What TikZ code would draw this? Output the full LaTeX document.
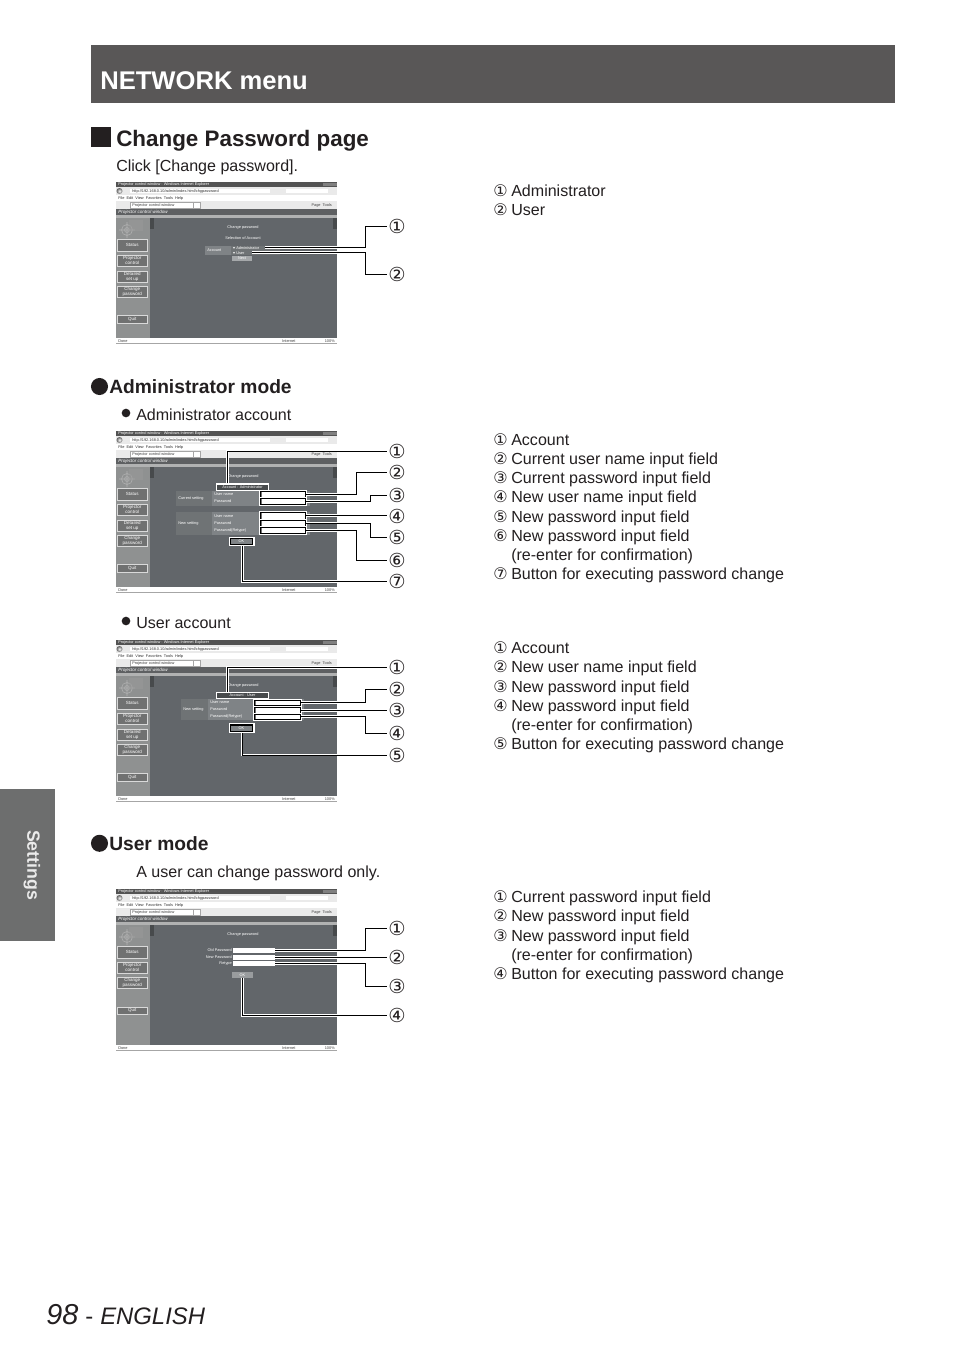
\documentclass[tikz,border=0pt]{standalone}
\usepackage{fontspec}
\usetikzlibrary{fit}
\setmainfont{Liberation Sans}
\newfontfamily\cfont{DejaVu Sans}
\definecolor{banner}{HTML}{595757}
\definecolor{tabgray}{HTML}{6D6E6E}
\definecolor{ink}{HTML}{231F20}
\definecolor{panel}{HTML}{62666A}
\definecolor{panelb}{HTML}{474A4C}
\definecolor{side}{HTML}{8F9191}
\definecolor{bandc}{HTML}{5E6062}
\definecolor{rowa}{HTML}{7F8386}
\definecolor{rowb}{HTML}{6F7375}
\definecolor{tint}{HTML}{EAEAEA}
\newcommand\tinyf{\fontsize{2.9}{3.2}\selectfont}
\newcommand\btnf{\fontsize{3.4}{3.8}\selectfont}
\tikzset{
  x=0.75pt,y=-0.75pt,
  bodyt/.style={anchor=base west,inner sep=0pt,text=ink,font=\fontsize{12.03}{14}\selectfont},
  headt/.style={anchor=base west,inner sep=0pt,text=ink,font=\bfseries\fontsize{14.4}{16}\selectfont},
  callout/.style={inner sep=0.8pt,text=ink,font=\cfont\fontsize{14.5}{16}\selectfont},
  conn/.style={line width=0.7pt,draw=black,preaction={draw=white,line width=2.2pt}},
  tinyt/.style={inner sep=0pt,font=\tinyf},
  btnst/.style={inner sep=0pt,fill=side!78!black,draw=white!85!black,line width=0.35pt},
  btntx/.style={inner sep=0pt,text=white,align=center,font=\btnf},
  fieldst/.style={inner sep=0pt,fill=white,draw=black,line width=0.7pt,preaction={draw=white,line width=2.1pt},
    path picture={\fill[black!55] (path picture bounding box.north west) rectangle ([xshift=1.3pt]path picture bounding box.south west);}},
  plainfield/.style={inner sep=0pt,fill=white},
  markbox/.style={inner sep=0pt,fill=panelb,draw=white,line width=0.9pt,text=white,font=\tinyf},
  okbox/.style={inner sep=0pt,fill=black,draw=white,line width=0.9pt},
  okbtn/.style={inner sep=0pt,fill=rowa,text=white,font=\tinyf},
}
% screenshot frame, drawn in a scope shifted to the top left corner of the shot
\newcommand\shotbase{%
  \fill[white] (0,0) rectangle (221,161);
  \fill[gray!65!black] (0,0) rectangle (221,4.7);
  \node[tinyt,text=white,anchor=west] (ttl) at (2,2.4) {Projector control window - Windows Internet Explorer};
  \fill[black!50] (207,0.5) rectangle (220.5,4.2);
  \fill[tint] (0,4.7) rectangle (221,13);
  \shade[inner color=white,outer color=black!60] (3.5,9) circle (3);
  \fill[white] (14,7) rectangle (154,11);
  \node[tinyt,text=black!80,anchor=west] (adr) at (16,9) {http://192.168.0.10/admin/index.html/chgpassword};
  \fill[white] (170,7) rectangle (212,11);
  \node[tinyt,text=black!80,anchor=west] (mnu) at (2,16) {File\ \ Edit\ \ View\ \ Favorites\ \ Tools\ \ Help};
  \fill[tint] (0,19) rectangle (221,27);
  \fill[white] (14,20.5) rectangle (84,26);
  \draw[black!35,line width=0.2pt] (14,20.5) rectangle (77,26) (77,20.5) rectangle (84,26);
  \node[tinyt,text=black!75,anchor=west] (fav) at (16,23.3) {Projector control window};
  \node[tinyt,text=black!75,anchor=east] (tools) at (216,23.3) {Page\ \ Tools};
  \fill[bandc] (0,27.3) rectangle (221,33.3);
  \node[tinyt,text=white,anchor=west,font=\itshape\fontsize{3.4}{4}\selectfont] (ban) at (2,30.4) {Projector control window};
  \fill[side] (0,33.3) rectangle (221,156);
  \fill[panel] (34,36) rectangle (221,156);
  \fill[side!70!white] (0,33.3) rectangle (221,36);
  \fill[panelb] (34,36) rectangle (38,47);
  \fill[panelb] (217,36) rectangle (221,47);
  \draw[white!70!black,line width=0.4pt] (11,48) circle (5.5) (11,48) circle (2.5) (3,48) -- (19,48) (11,40) -- (11,56);
  \fill[white!60!black,opacity=.55] (13,38) rectangle (27,49);
  \fill[white] (0,156) rectangle (221,161);
  \node[tinyt,text=black!75,anchor=west] (don) at (2,159) {Done};
  \node[tinyt,text=black!75,anchor=west] (inet) at (166,159) {Internet};
  \node[tinyt,text=black!75,anchor=east] (zm) at (219,159) {100\%};
  \draw[black!35,line width=0.3pt] (0,161) -- (221,161);
}
\newcommand\sbtn[4]{\node[btnst,fit={(1.5,#2)(31,#3)}] (#1) {};\node[btntx] (#1t) at (#1.center) {#4};}
\newcommand\tl[4]{\node[tinyt,text=white,anchor=#3] (#1) at (#2) {#4};}
\newcommand\litem[4]{\node[bodyt] (#1) at (493,#2) {\makebox[13.5pt][l]{\cfont\fontsize{12}{13}\selectfont #3}#4};}
\newcommand\lcont[3]{\node[bodyt] (#1) at (511,#2) {#3};}
\begin{document}
\begin{tikzpicture}
\useasboundingbox (0,0) rectangle (954,1350);
\fill[white] (0,0) rectangle (954,1350);
\coordinate (xa) at (356.7,0);
\coordinate (xb) at (370,0);
\coordinate (xc) at (365,0);
% page furniture
\node[inner sep=0pt,fill=banner,fit={(91,45)(895,103)}] (bannerbox) {};
\node[anchor=base west,inner sep=0pt,text=white,font=\bfseries\fontsize{19.2}{22}\selectfont] (title) at (100,89) {NETWORK menu};
\node[inner sep=0pt,fill=tabgray,fit={(0,789)(55,941)}] (tab) {};
\node[rotate=-90,inner sep=0pt,text=white!92!black,font=\bfseries\fontsize{13.3}{15}\selectfont] (settings) at (32,865) {Settings};
\node[inner sep=0pt,fill=ink,fit={(91,127)(111,147)}] (sq) {};
\node[anchor=base west,inner sep=0pt,text=ink,font=\bfseries\fontsize{16.8}{20}\selectfont] (h1) at (116,146) {Change Password page};
\node[bodyt] (click) at (116,171) {Click [Change password].};
\node[circle,fill=ink,inner sep=0pt,minimum size=12.8pt] (b1) at (99.5,386.5) {};
\node[headt] (h2) at (109,393) {Administrator mode};
\node[circle,fill=ink,inner sep=0pt,minimum size=6.5pt] (b2) at (126,413) {};
\node[bodyt] (adm) at (136,420) {Administrator account};
\node[circle,fill=ink,inner sep=0pt,minimum size=6.5pt] (b3) at (126,621) {};
\node[bodyt] (usr) at (136,628) {User account};
\node[circle,fill=ink,inner sep=0pt,minimum size=12.8pt] (b4) at (99.5,843.3) {};
\node[headt] (h3) at (109,850) {User mode};
\node[bodyt] (ucan) at (136,877) {A user can change password only.};
\node[anchor=base west,inner sep=0pt,text=ink,font=\itshape\fontsize{21.6}{24}\selectfont] (pnum) at (46,1324) {98};
\node[anchor=base west,inner sep=0pt,text=ink,font=\fontsize{17.9}{20}\selectfont] (pdash) at (85,1324) {-};
\node[anchor=base west,inner sep=0pt,text=ink,font=\itshape\fontsize{17.9}{20}\selectfont] (peng) at (100,1324) {ENGLISH};
% ---------- shot 1
\begin{scope}[shift={(116,182)},name prefix=a-]
\shotbase
\sbtn{s}{57}{69}{Status}
\sbtn{p}{73}{84}{Projector\\control}
\sbtn{d}{89}{100}{Detailed\\set up}
\sbtn{c}{104}{115}{Change\\password}
\sbtn{q}{133}{141}{Quit}
\tl{t1}{127,45}{center}{Change password}
\tl{t2}{127,56}{center}{Selection of Account}
\node[inner sep=0pt,fill=rowa,fit={(89,64)(115,73)}] (r1) {};
\tl{t3}{91,68.5}{west}{Account}
\node[inner sep=0pt,fill=rowb,fit={(115,64)(164,73)}] (r2) {};
\tl{t4}{120,65.8}{west}{Administrator}
\tl{t5}{120,70.7}{west}{User}
\fill[white] (118,65.8) circle (0.9) (118,70.7) circle (0.9);
\node[inner sep=0pt,fill=rowa!70!white,text=white,font=\tinyf,fit={(116,74)(136,79)}] (nx) {};
\tl{t6}{126,76.5}{center}{Next}
\end{scope}
\coordinate (s1a) at (265,247.3);
\coordinate (s1b) at (252,252.3);
\node[callout] (a1) at (397,226.5) {①};
\node[callout] (a2) at (397,274) {②};
\draw[conn] (s1a) -- (s1a -| xc) -- (a1.west -| xc) -- (a1.west);
\draw[conn] (s1b) -- (s1b -| xc) -- (a2.west -| xc) -- (a2.west);
\litem{l11}{196.5}{①}{Administrator}
\litem{l12}{215.5}{②}{User}
% ---------- shot 2
\begin{scope}[shift={(116,431)},name prefix=b-]
\shotbase
\sbtn{s}{57}{69}{Status}
\sbtn{p}{73}{84}{Projector\\control}
\sbtn{d}{89}{100}{Detailed\\set up}
\sbtn{c}{104}{115}{Change\\password}
\sbtn{q}{133}{141}{Quit}
\tl{t1}{127,45}{center}{Change password}
\node[inner sep=0pt,fill=rowa,fit={(60,60)(194,75)}] (cr) {};
\node[inner sep=0pt,fill=rowb,fit={(60,60)(96,75)}] (cr1) {};
\tl{t2}{62,67.5}{west}{Current setting}
\tl{t3}{98,63}{west}{User name}
\tl{t4}{98,70}{west}{Password}
\node[inner sep=0pt,fill=rowa,fit={(60,81)(194,104)}] (nr) {};
\node[inner sep=0pt,fill=rowb,fit={(60,81)(96,104)}] (nr1) {};
\tl{t5}{62,92}{west}{New setting}
\tl{t6}{98,85}{west}{User name}
\tl{t7}{98,92}{west}{Password}
\tl{t8}{98,99}{west}{Password(Retype)}
\end{scope}
\node[markbox,fit={(216.7,484)(268.3,490.7)}] (bbox) {};
\node[tinyt,text=white] (btxt) at (242.5,487.4) {Account : Administrator};
\node[fieldst,fit={(260,491.3)(305.7,497.3)}] (bf2) {};
\node[fieldst,fit={(260,498.3)(305.7,504.3)}] (bf3) {};
\node[fieldst,fit={(260,512.7)(305.7,519)}] (bf4) {};
\node[fieldst,fit={(260,520)(305.7,526)}] (bf5) {};
\node[fieldst,fit={(260,527.3)(305.7,533.7)}] (bf6) {};
\node[okbox,fit={(229.3,537.3)(254,545.7)}] (bok) {};
\node[okbtn,fit={(231.3,539)(252,544)}] (bokin) {};
\node[tinyt,text=white] (boktx) at (241.5,541.5) {OK};
\node[callout] (b1n) at (397,451) {①};
\node[callout] (b2n) at (397,472.7) {②};
\node[callout] (b3n) at (397,495) {③};
\node[callout] (b4n) at (397,516.3) {④};
\node[callout] (b5n) at (397,537.7) {⑤};
\node[callout] (b6n) at (397,560) {⑥};
\node[callout] (b7n) at (397,581.7) {⑦};
\coordinate (bx1) at (227.3,0);
\coordinate (bx7) at (242.7,0);
\draw[conn] (bx1 |- bbox.north) -- (bx1 |- b1n.west) -- (b1n.west);
\draw[conn] (bf2.east) -- (bf2.east -| xa) -- (b2n.west -| xa) -- (b2n.west);
\draw[conn] (bf3.east) -- (bf3.east -| xb) -- (b3n.west -| xb) -- (b3n.west);
\draw[conn] (bf4.east) -- (bf4.east -| b4n.west);
\draw[conn] (bf5.east) -- (bf5.east -| xb) -- (b5n.west -| xb) -- (b5n.west);
\draw[conn] (bf6.east) -- (bf6.east -| xa) -- (b6n.west -| xa) -- (b6n.west);
\draw[conn] (bx7 |- bok.south) -- (bx7 |- b7n.west) -- (b7n.west);
\litem{l21}{445}{①}{Account}
\litem{l22}{464}{②}{Current user name input field}
\litem{l23}{483}{③}{Current password input field}
\litem{l24}{502}{④}{New user name input field}
\litem{l25}{522}{⑤}{New password input field}
\litem{l26}{541}{⑥}{New password input field}
\lcont{l26b}{560}{(re-enter for confirmation)}
\litem{l27}{579}{⑦}{Button for executing password change}
% ---------- shot 3
\begin{scope}[shift={(116,640)},name prefix=c-]
\shotbase
\sbtn{s}{57}{69}{Status}
\sbtn{p}{73}{84}{Projector\\control}
\sbtn{d}{89}{100}{Detailed\\set up}
\sbtn{c}{104}{115}{Change\\password}
\sbtn{q}{133}{141}{Quit}
\tl{t1}{127,45}{center}{Change password}
\node[inner sep=0pt,fill=rowa,fit={(65,59)(188,80)}] (nr) {};
\node[inner sep=0pt,fill=rowb,fit={(65,59)(92,80)}] (nr1) {};
\tl{t5}{67,69.5}{west}{New setting}
\tl{t6}{94,62.5}{west}{User name}
\tl{t7}{94,69.5}{west}{Password}
\tl{t8}{94,76.5}{west}{Password(Retype)}
\end{scope}
\node[markbox,fit={(216.7,692.3)(268.3,698.7)}] (cbox) {};
\node[tinyt,text=white] (ctxt) at (242.5,695.5) {Account : User};
\node[fieldst,fit={(254,700)(300.7,705.7)}] (cf2) {};
\node[fieldst,fit={(254,707.3)(300.7,713)}] (cf3) {};
\node[fieldst,fit={(254,714)(300.7,719.7)}] (cf4) {};
\node[okbox,fit={(229.3,723.7)(254,732.7)}] (cok) {};
\node[okbtn,fit={(231.3,725.5)(252,731)}] (cokin) {};
\node[tinyt,text=white] (coktx) at (241.5,728.2) {OK};
\node[callout] (c1n) at (397,667.5) {①};
\node[callout] (c2n) at (397,689.5) {②};
\node[callout] (c3n) at (397,710.7) {③};
\node[callout] (c4n) at (397,733) {④};
\node[callout] (c5n) at (397,755) {⑤};
\coordinate (cx1) at (227.3,0);
\coordinate (cx5) at (242,0);
\draw[conn] (cx1 |- cbox.north) -- (cx1 |- c1n.west) -- (c1n.west);
\draw[conn] (cf2.east) -- (cf2.east -| xc) -- (c2n.west -| xc) -- (c2n.west);
\draw[conn] (cf3.east) -- (cf3.east -| c3n.west);
\draw[conn] (cf4.east) -- (cf4.east -| xc) -- (c4n.west -| xc) -- (c4n.west);
\draw[conn] (cx5 |- cok.south) -- (cx5 |- c5n.west) -- (c5n.west);
\litem{l31}{653}{①}{Account}
\litem{l32}{672}{②}{New user name input field}
\litem{l33}{692}{③}{New password input field}
\litem{l34}{711}{④}{New password input field}
\lcont{l34b}{730}{(re-enter for confirmation)}
\litem{l35}{749}{⑤}{Button for executing password change}
% ---------- shot 4
\begin{scope}[shift={(116,889)},name prefix=d-]
\shotbase
\sbtn{s}{57}{69}{Status}
\sbtn{p}{73}{84}{Projector\\control}
\sbtn{c}{88}{99}{Change\\password}
\sbtn{q}{118}{125}{Quit}
\tl{t1}{127,45}{center}{Change password}
\tl{t2}{116,61.5}{east}{Old Password}
\tl{t3}{116,68}{east}{New Password}
\tl{t4}{116,74.7}{east}{Retype}
\end{scope}
\node[plainfield,fit={(233.3,948)(275,953)}] (df1) {};
\node[plainfield,fit={(233.3,954.7)(275,959.7)}] (df2) {};
\node[plainfield,fit={(233.3,961.3)(275,966.3)}] (df3) {};
\node[inner sep=0pt,fill=rowa!80!white,fit={(232.3,972)(252.7,977.7)}] (dok) {};
\node[tinyt,text=white] (doktx) at (242.5,975) {OK};
\node[callout] (d1n) at (397,928) {①};
\node[callout] (d2n) at (397,957) {②};
\node[callout] (d3n) at (397,986) {③};
\node[callout] (d4n) at (397,1015.3) {④};
\coordinate (dx4) at (242.7,0);
\draw[conn] (df1.east) -- (df1.east -| xc) -- (d1n.west -| xc) -- (d1n.west);
\draw[conn] (df2.east) -- (df2.east -| d2n.west);
\draw[conn] (df3.east) -- (df3.east -| xc) -- (d3n.west -| xc) -- (d3n.west);
\draw[conn] (dx4 |- dok.south) -- (dx4 |- d4n.west) -- (d4n.west);
\litem{l41}{902}{①}{Current password input field}
\litem{l42}{921}{②}{New password input field}
\litem{l43}{941}{③}{New password input field}
\lcont{l43b}{960}{(re-enter for confirmation)}
\litem{l44}{979}{④}{Button for executing password change}
\end{tikzpicture}
\end{document}
